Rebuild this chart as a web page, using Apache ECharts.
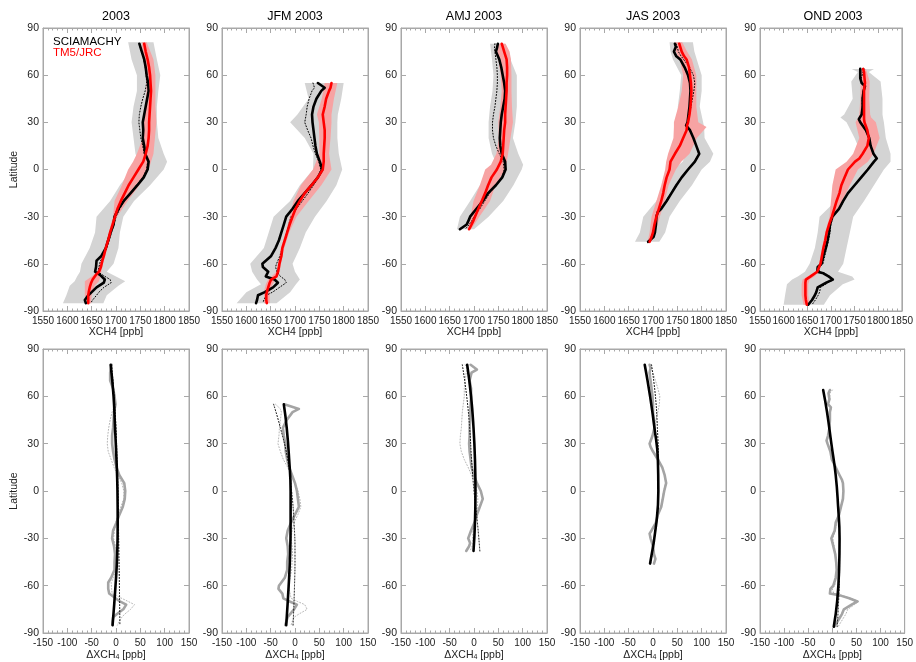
<!DOCTYPE html>
<html>
<head>
<meta charset="utf-8">
<script src="https://cdn.jsdelivr.net/npm/echarts@6/dist/echarts.min.js"></script>
<style>
  html, body { margin: 0; padding: 0; background: #fff; }
  #chart { width: 916px; height: 662px; }
</style>
</head>
<body>
<div id="chart"></div>
<script>
// panel titles
const TITLES = ['2003', 'JFM 2003', 'AMJ 2003', 'JAS 2003', 'OND 2003'];

// ---- 2003 annual ----
const LAT_ANN = [80,75,70,65,60,55,50,45,40,35,30,25,20,15,10,5,0,-5,-10,-15,-20,-25,-30,-35,-40,-45,-50,-55,-58,-62,-65,-67,-70,-72,-75,-78,-80,-83,-85];
const SCIA_ANN = [1748,1753,1758,1761,1763,1766,1767,1764,1761,1758,1755,1756,1755,1758,1760,1767,1765,1757,1744,1730,1716,1705,1697,1695,1689,1684,1679,1670,1660,1659,1657,1667,1677,1675,1660,1650,1643,1636,1638];
const SCIA2_ANN = [1748,1752,1757,1760,1762,1763,1760,1755,1751,1748,1747,1749,1751,1755,1758,1765,1763,1755,1742,1729,1717,1708,1700,1696,1691,1686,1681,1675,1668,1665,1663,1672,1688,1690,1675,1665,1660,1652,1648];
const TM5_ANN = [1758,1761,1765,1768,1770,1771,1772,1771,1770,1769,1768,1768,1767,1765,1761,1756,1746,1736,1726,1718,1710,1703,1698,1693,1688,1684,1679,1675,1672,1669,1665,1659,1652,1649,1646,1644,1643,1643,1643];
const DIFF_ANN = [-9,-12,-12,-6,-3,-1,-4,-5,-6,-8,-8,-6,-3,1,7,17,19,18,14,7,1,-6,-8,-4,-2,-3,-3,-10,-16,-16,-14,-5,8,21,15,2,-6,-7,-7];
const DIFF2_ANN = [-9,-11,-10,-5,-2,-2,-8,-12,-15,-17,-18,-16,-10,-4,3,12,16,16,10,4,0,-3,-5,-1,0,1,0,-5,-10,-9,-8,5,25,38,30,18,12,6,3];
const BLAT_ANN = [81,70,60,50,40,30,20,10,5,0,-10,-20,-30,-40,-50,-60,-65,-68,-71,-74,-80,-85];
const GRAY_LO_ANN = [1725,1732,1743,1743,1736,1732,1736,1740,1746,1732,1708,1688,1660,1657,1646,1629,1626,1620,1615,1605,1598,1591];
const GRAY_HI_ANN = [1777,1784,1791,1787,1784,1784,1787,1798,1805,1798,1770,1737,1715,1708,1705,1695,1681,1700,1719,1705,1681,1674];
const RED_LO_ANN = [1753,1756,1762,1763,1760,1757,1755,1743,1735,1725,1712,1697,1694,1685,1676,1666,1661,1650,1636,1636,1636,1637];
const RED_HI_ANN = [1763,1777,1781,1781,1781,1783,1780,1777,1772,1767,1748,1724,1702,1691,1682,1673,1670,1668,1665,1656,1650,1649];
const FLAT_ANN = [80,60,40,20,0,-20,-40,-60,-85];
const FIT_ANN = [-11,-5,-2,1,3,3.5,2.5,-1,-7];
const FIT2_ANN = [-9,-4,0,2,4,5,6,7,8];

// ---- JFM ----
const LAT_JFM = [55,52,50,45,40,35,30,25,20,15,10,5,0,-5,-10,-15,-20,-25,-30,-35,-40,-45,-50,-55,-60,-62,-65,-68,-70,-72,-75,-78,-80,-83,-85];
const SCIA_JFM = [1747,1761,1754,1744,1738,1735,1736,1738,1740,1742,1745,1751,1756,1747,1734,1720,1706,1695,1682,1677,1672,1667,1660,1651,1633,1634,1645,1640,1658,1665,1655,1638,1624,1622,1620];
const SCIA2_JFM = [1737,1740,1735,1729,1725,1723,1720,1726,1733,1737,1742,1749,1753,1748,1738,1727,1715,1703,1692,1687,1683,1679,1674,1669,1662,1660,1663,1670,1679,1682,1668,1654,1641,1636,1634];
const TM5_JFM = [1775,1773,1770,1764,1761,1757,1759,1761,1761,1760,1759,1759,1757,1747,1734,1720,1710,1701,1695,1689,1684,1679,1674,1672,1668,1667,1665,1662,1651,1648,1645,1642,1641,1641,1642];
const DIFF_JFM = [-22,8,-5,-17,-25,-23,-20,-19,-16,-12,-6,0,4,6,8,0,-8,-15,-18,-15,-14,-16,-16,-21,-33,-34,-26,-24,-11,4,-2,-10,-15,-18,-20];
const DIFF2_JFM = [-40,-30,-28,-30,-32,-33,-35,-30,-24,-15,-8,0,6,10,12,6,-2,-6,-8,-6,-5,-6,-7,-10,-14,-12,-10,-8,5,20,25,8,-2,-6,-8];
const BLAT_JFM = [55,45,35,30,20,10,0,-10,-20,-30,-40,-50,-60,-65,-70,-73,-78,-85];
const GRAY_LO_JFM = [1720,1728,1705,1690,1720,1738,1737,1710,1690,1656,1646,1636,1608,1612,1622,1630,1600,1580];
const GRAY_HI_JFM = [1800,1795,1788,1787,1787,1790,1797,1785,1765,1741,1722,1710,1695,1700,1710,1702,1690,1662];
const RED_LO_JFM = [1761,1755,1745,1749,1750,1750,1737,1712,1697,1689,1681,1671,1665,1662,1645,1640,1636,1637];
const RED_HI_JFM = [1787,1780,1775,1775,1773,1770,1775,1754,1728,1703,1688,1678,1671,1669,1660,1654,1648,1648];
const FLAT_JFM = [55,40,20,0,-20,-40,-60,-85];
const FIT_JFM = [-23,-17,-12,-9,-9,-10,-13,-18];
const FIT2_JFM = [-44,-30,-15,-7,-2,0,-1,-4];

// ---- AMJ ----
const LAT_AMJ = [80,77,75,70,65,60,55,50,45,40,35,30,25,20,15,10,5,0,-5,-10,-15,-20,-25,-30,-33,-35,-38];
const SCIA_AMJ = [1749,1747,1745,1752,1756,1759,1762,1764,1763,1760,1757,1755,1754,1753,1754,1757,1764,1765,1758,1745,1729,1718,1705,1692,1688,1685,1671];
const SCIA2_AMJ = [1743,1742,1743,1745,1747,1748,1748,1747,1745,1743,1740,1738,1738,1740,1745,1752,1760,1762,1758,1745,1732,1722,1712,1700,1695,1690,1682];
const TM5_AMJ = [1757,1760,1762,1767,1768,1768,1767,1767,1766,1765,1764,1764,1762,1761,1760,1759,1755,1747,1736,1729,1723,1716,1709,1702,1698,1695,1690];
const DIFF_AMJ = [-7,6,-5,-9,-6,-6,-7,-8,-8,-9,-9,-10,-9,-7,-5,0,6,14,18,12,6,1,-6,-12,-8,-10,-16];
const DIFF2_AMJ = [-18,-14,-16,-18,-20,-20,-22,-24,-25,-26,-28,-29,-26,-20,-12,-5,2,6,8,7,5,2,-2,-3,-2,-4,-8];
const BLAT_AMJ = [80,75,70,60,50,40,30,20,10,3,0,-10,-20,-30,-38];
const GRAY_LO_AMJ = [1733,1735,1737,1740,1738,1733,1730,1730,1737,1747,1747,1712,1692,1671,1665];
const GRAY_HI_AMJ = [1764,1772,1775,1788,1788,1788,1785,1780,1791,1801,1798,1781,1760,1730,1700];
const RED_LO_AMJ = [1747,1748,1750,1755,1757,1754,1750,1751,1746,1735,1723,1712,1699,1693,1686];
const RED_HI_AMJ = [1765,1773,1776,1777,1777,1778,1780,1775,1770,1766,1764,1744,1733,1711,1694];
const FLAT_AMJ = [80,60,40,20,0,-20,-38];
const FIT_AMJ = [-14,-6,-1,2,3,2,-1];
const FIT2_AMJ = [-24,-15,-9,-5,0,7,12];

// ---- JAS ----
const LAT_JAS = [80,78,75,72,70,65,60,55,50,45,40,35,30,28,25,20,15,10,5,0,-5,-10,-15,-20,-25,-27,-30,-35,-40,-43,-46];
const SCIA_JAS = [1745,1747,1743,1748,1756,1765,1772,1776,1777,1776,1775,1773,1771,1768,1776,1783,1789,1795,1786,1772,1759,1748,1738,1728,1717,1710,1707,1706,1704,1701,1690];
const SCIA2_JAS = [1747,1750,1752,1758,1763,1775,1783,1786,1784,1781,1778,1775,1772,1770,1776,1783,1789,1794,1785,1771,1758,1747,1737,1727,1716,1710,1707,1705,1703,1701,1692];
const TM5_JAS = [1754,1756,1759,1764,1769,1774,1776,1778,1779,1778,1777,1775,1772,1770,1769,1762,1755,1745,1736,1734,1728,1724,1721,1717,1712,1710,1707,1703,1700,1697,1693];
const DIFF_JAS = [-7,-5,-7,-6,-5,-3,-1,0,0,2,3,-1,-7,-5,0,10,19,24,27,23,20,17,10,6,-3,-7,-5,0,2,5,2];
const DIFF2_JAS = [-5,-3,0,3,5,10,14,13,10,6,3,-1,-6,-5,1,11,19,24,26,22,19,16,10,6,-2,-6,-4,1,3,5,2];
const BLAT_JAS = [81,75,70,60,50,40,30,27,20,10,5,0,-10,-20,-30,-40,-46];
const GRAY_LO_JAS = [1734,1736,1741,1758,1755,1751,1751,1752,1755,1768,1761,1741,1724,1707,1680,1673,1663];
const GRAY_HI_JAS = [1782,1785,1790,1800,1800,1796,1803,1805,1806,1824,1817,1800,1780,1755,1734,1725,1713];
const RED_LO_JAS = [1745,1747,1755,1762,1759,1752,1743,1743,1742,1731,1727,1725,1717,1707,1697,1693,1689];
const RED_HI_JAS = [1760,1770,1780,1789,1789,1789,1793,1810,1790,1775,1758,1747,1732,1724,1714,1705,1696];
const FLAT_JAS = [80,60,40,20,0,-20,-46];
const FIT_JAS = [-17,-6,3,10,11,7,-6];
const FIT2_JAS = [-3,5,9,11,11,7,-5];

// ---- OND ----
const LAT_OND = [64,62,58,55,53,50,45,40,35,32,30,25,20,15,10,7,5,0,-5,-10,-15,-20,-25,-30,-35,-40,-45,-50,-55,-60,-62,-65,-66,-68,-70,-72,-75,-78,-80,-83,-86];
const SCIA_OND = [1762,1762,1762,1765,1772,1769,1767,1767,1765,1759,1762,1774,1781,1784,1790,1797,1791,1778,1764,1750,1736,1726,1717,1703,1698,1696,1693,1689,1684,1680,1672,1671,1684,1695,1704,1690,1672,1669,1666,1660,1652];
const SCIA2_OND = [1770,1768,1764,1765,1771,1768,1766,1766,1764,1758,1762,1773,1780,1783,1789,1795,1790,1777,1763,1750,1737,1727,1718,1704,1700,1698,1695,1691,1687,1683,1676,1675,1687,1697,1706,1694,1678,1676,1673,1667,1660];
const TM5_OND = [1768,1770,1771,1772,1771,1770,1770,1770,1770,1770,1771,1777,1780,1777,1767,1760,1751,1736,1729,1722,1718,1712,1707,1702,1696,1691,1688,1684,1681,1678,1675,1671,1667,1657,1647,1646,1646,1646,1646,1647,1649];
const DIFF_OND = [-5,-8,-6,-9,-3,-5,-5,-6,-9,-12,-10,-4,-1,7,15,20,22,23,22,18,14,7,5,-2,2,6,8,9,7,2,-4,-5,14,35,52,40,24,20,16,10,4];
const DIFF2_OND = [0,-5,-5,-8,-2,-4,-4,-5,-7,-11,-9,-4,0,6,14,19,21,22,21,17,13,9,6,1,4,7,8,10,8,5,0,3,18,38,55,46,32,28,24,18,12];
const BLAT_OND = [64,62,56,45,35,33,30,20,10,5,0,-10,-20,-30,-40,-50,-60,-65,-68,-70,-73,-80,-86];
const GRAY_LO_OND = [1744,1757,1743,1746,1728,1720,1733,1750,1764,1768,1750,1726,1710,1676,1672,1666,1655,1645,1630,1618,1607,1603,1600];
const GRAY_HI_OND = [1791,1780,1805,1809,1809,1810,1812,1816,1826,1826,1812,1791,1770,1747,1740,1733,1726,1715,1745,1750,1725,1698,1685];
const RED_LO_OND = [1760,1763,1763,1762,1760,1758,1752,1760,1747,1733,1710,1703,1700,1697,1688,1681,1675,1668,1650,1640,1638,1638,1642];
const RED_HI_OND = [1774,1776,1782,1781,1783,1785,1795,1803,1790,1778,1757,1740,1724,1707,1694,1687,1681,1675,1665,1655,1652,1652,1655];
const FLAT_OND = [64,50,30,10,-10,-30,-50,-70,-86];
const FIT_OND = [-19,-11,-2,7,12,15,14,10,3];
const FIT2_OND = [-19,-11,-2,7,12,15,15,13,10];

const PANELS = [
  { lat: LAT_ANN, scia: SCIA_ANN, scia2: SCIA2_ANN, tm5: TM5_ANN, diff: DIFF_ANN, diff2: DIFF2_ANN, blat: BLAT_ANN, glo: GRAY_LO_ANN, ghi: GRAY_HI_ANN, rlo: RED_LO_ANN, rhi: RED_HI_ANN, flat: FLAT_ANN, fit: FIT_ANN, fit2: FIT2_ANN },
  { lat: LAT_JFM, scia: SCIA_JFM, scia2: SCIA2_JFM, tm5: TM5_JFM, diff: DIFF_JFM, diff2: DIFF2_JFM, blat: BLAT_JFM, glo: GRAY_LO_JFM, ghi: GRAY_HI_JFM, rlo: RED_LO_JFM, rhi: RED_HI_JFM, flat: FLAT_JFM, fit: FIT_JFM, fit2: FIT2_JFM },
  { lat: LAT_AMJ, scia: SCIA_AMJ, scia2: SCIA2_AMJ, tm5: TM5_AMJ, diff: DIFF_AMJ, diff2: DIFF2_AMJ, blat: BLAT_AMJ, glo: GRAY_LO_AMJ, ghi: GRAY_HI_AMJ, rlo: RED_LO_AMJ, rhi: RED_HI_AMJ, flat: FLAT_AMJ, fit: FIT_AMJ, fit2: FIT2_AMJ },
  { lat: LAT_JAS, scia: SCIA_JAS, scia2: SCIA2_JAS, tm5: TM5_JAS, diff: DIFF_JAS, diff2: DIFF2_JAS, blat: BLAT_JAS, glo: GRAY_LO_JAS, ghi: GRAY_HI_JAS, rlo: RED_LO_JAS, rhi: RED_HI_JAS, flat: FLAT_JAS, fit: FIT_JAS, fit2: FIT2_JAS },
  { lat: LAT_OND, scia: SCIA_OND, scia2: SCIA2_OND, tm5: TM5_OND, diff: DIFF_OND, diff2: DIFF2_OND, blat: BLAT_OND, glo: GRAY_LO_OND, ghi: GRAY_HI_OND, rlo: RED_LO_OND, rhi: RED_HI_OND, flat: FLAT_OND, fit: FIT_OND, fit2: FIT2_OND }
];

const FONT = '"Liberation Sans", Arial, sans-serif';
const FRAME = '#a8a8a8';
const LEFTS = [43, 222, 401, 580, 760];
const W = 146;

const chart = echarts.init(document.getElementById('chart'), null, { renderer: 'canvas' });

function pts(xs, lats) {
  return xs.map((x, i) => [x, lats[i]]);
}

function band(gi, lats, lo, hi, color, z) {
  return {
    type: 'custom', xAxisIndex: gi * 2, yAxisIndex: gi * 2, z, silent: true,
    data: [[lo[0], lats[0]]],
    renderItem: function (params, api) {
      const p = [];
      for (let i = 0; i < lats.length; i++) p.push(api.coord([lo[i], lats[i]]));
      for (let i = lats.length - 1; i >= 0; i--) p.push(api.coord([hi[i], lats[i]]));
      return { type: 'polygon', shape: { points: p }, style: { fill: color, stroke: null } };
    }
  };
}

function line(gi, data, color, width, dotted, z, smooth) {
  return {
    type: 'line', xAxisIndex: gi * 2, yAxisIndex: gi * 2, data, z, silent: true,
    symbol: 'none', smooth: smooth ? 0.5 : false,
    lineStyle: { color, width, type: dotted ? [1, 2] : 'solid', cap: 'round', join: 'round' }
  };
}

const grids = [], xAxes = [], yAxes = [], series = [];
const tickStyle = { color: FRAME, width: 1 };
const plain = v => String(v);

for (let row = 0; row < 2; row++) {
  for (let c = 0; c < 5; c++) {
    const gi = row * 5 + c;
    grids.push({ left: LEFTS[c], width: W, top: row === 0 ? 28 : 349, height: row === 0 ? 283 : 284, show: true, borderColor: FRAME, borderWidth: 1, backgroundColor: 'transparent' });
    const xmin = row === 0 ? 1550 : -150, xmax = row === 0 ? 1850 : 150;
    const xBase = {
      gridIndex: gi, type: 'value', min: xmin, max: xmax, interval: 50,
      splitLine: { show: false },
      axisLine: { show: true, onZero: false, lineStyle: tickStyle },
      axisTick: { show: true, inside: true, length: 5, lineStyle: tickStyle },
      minorTick: { show: true, splitNumber: 5, length: 2.5, lineStyle: tickStyle }
    };
    xAxes.push(Object.assign({}, xBase, {
      position: 'bottom',
      axisLabel: { show: true, color: '#222', fontSize: 10, fontFamily: FONT, margin: 5,
        formatter: plain, showMinLabel: true, showMaxLabel: true, hideOverlap: false },
      name: row === 0 ? 'XCH4 [ppb]' : '\u0394XCH{sub|4} [ppb]',
      nameLocation: 'middle', nameGap: 16,
      nameTextStyle: { color: '#222', fontSize: 10.5, fontFamily: FONT,
        rich: { sub: { fontSize: 7, fontFamily: FONT, color: '#222', padding: [5, 0, 0, 0] } } }
    }));
    xAxes.push(Object.assign({}, xBase, { position: 'top', axisLabel: { show: false } }));
    const yBase = {
      gridIndex: gi, type: 'value', min: -90, max: 90, interval: 30,
      splitLine: { show: false },
      axisLine: { show: true, onZero: false, lineStyle: tickStyle },
      axisTick: { show: true, inside: true, length: 5, lineStyle: tickStyle }
    };
    yAxes.push(Object.assign({}, yBase, {
      position: 'left',
      axisLabel: { show: true, color: '#222', fontSize: 10.5, fontFamily: FONT, margin: 4,
        formatter: plain, showMinLabel: true, showMaxLabel: true },
      name: c === 0 ? 'Latitude' : '', nameLocation: 'middle', nameGap: 21, nameRotate: 90,
      nameTextStyle: { color: '#222', fontSize: 10.5, fontFamily: FONT }
    }));
    yAxes.push(Object.assign({}, yBase, { position: 'right', axisLabel: { show: false } }));

    const P = PANELS[c];
    if (row === 0) {
      series.push(band(gi, P.blat, P.glo, P.ghi, '#d4d4d4', 1));
      series.push(band(gi, P.blat, P.rlo, P.rhi, '#f7a3a3', 2));
      series.push(line(gi, pts(P.scia2, P.lat), '#000', 1, true, 3));
      series.push(line(gi, pts(P.scia, P.lat), '#000', 2.6, false, 4));
      series.push(line(gi, pts(P.tm5, P.lat), '#ff0000', 2.6, false, 5));
    } else {
      series.push(line(gi, pts(P.diff2, P.lat), '#b4b4b4', 1, true, 3));
      series.push(line(gi, pts(P.diff, P.lat), '#a4a4a4', 2.6, false, 4));
      series.push(line(gi, pts(P.fit2, P.flat), '#000', 1, true, 5, true));
      series.push(line(gi, pts(P.fit, P.flat), '#000', 2.6, false, 6, true));
    }
  }
}

const graphic = TITLES.map((t, c) => ({
  type: 'text', x: LEFTS[c] + W / 2, y: 17, silent: true,
  style: { text: t, font: '12.5px ' + FONT, fill: '#000', align: 'center', verticalAlign: 'middle', textAlign: 'center', textVerticalAlign: 'middle' }
}));
graphic.push({ type: 'text', x: 53, y: 42, silent: true,
  style: { text: 'SCIAMACHY', font: '11.5px ' + FONT, fill: '#000', align: 'left', verticalAlign: 'middle', textVerticalAlign: 'middle' } });
graphic.push({ type: 'text', x: 53, y: 53, silent: true,
  style: { text: 'TM5/JRC', font: '11.5px ' + FONT, fill: '#ff0000', align: 'left', verticalAlign: 'middle', textVerticalAlign: 'middle' } });

chart.setOption({
  animation: false,
  textStyle: { fontFamily: FONT },
  grid: grids,
  xAxis: xAxes,
  yAxis: yAxes,
  series,
  graphic
});
</script>
</body>
</html>
